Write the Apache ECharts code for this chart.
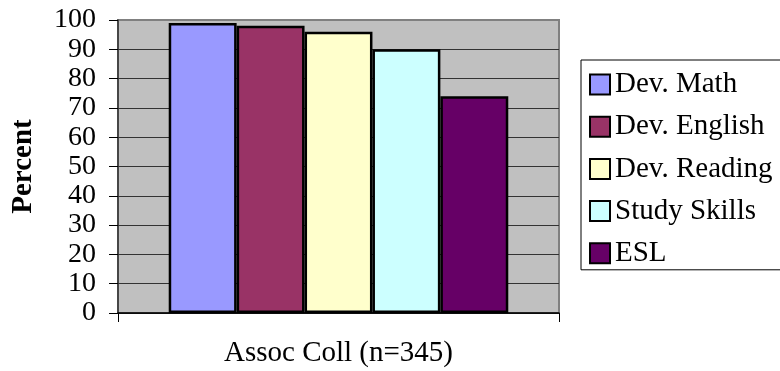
<!DOCTYPE html>
<html>

<head>
  <meta charset="utf-8" />
  <title></title>
  <script src="https://cdn.jsdelivr.net/npm/echarts@6/dist/echarts.min.js"></script>
  <style>
    html, body { margin: 0; padding: 0; background: #fff; }
  </style>
</head>

<body>
  <div id="main" style="width: 780px;height:371px;"></div>
  <script type="text/javascript">
    var categories = ['Assoc Coll (n=345)'];
    var seriesNames = ['Dev. Math', 'Dev. English', 'Dev. Reading', 'Study Skills', 'ESL'];
    var seriesValues = [99, 98, 96, 90, 74];
    var seriesColors = ['#9999FF', '#993366', '#FFFFCC', '#CCFFFF', '#660066'];
    var yTicks = [0, 10, 20, 30, 40, 50, 60, 70, 80, 90, 100];

    var font = "'Liberation Serif', 'Times New Roman', serif";

    var gridColors = yTicks.map(function (v) {
      return v === 100 ? '#808080' : '#333333';
    });

    var series = seriesNames.map(function (name, i) {
      return {
        name: name,
        type: 'bar',
        barGap: 0,
        barCategoryGap: '23%',
        data: [seriesValues[i]],
        itemStyle: { color: seriesColors[i], borderColor: '#000', borderWidth: 2.5 }
      };
    });

    var chart = echarts.init(document.getElementById('main'));
    var option = {
      animation: false,
      grid: {
        left: 118, right: 221, top: 20, bottom: 58,
        outerBoundsMode: 'none',
        containLabel: false,
        show: true,
        backgroundColor: '#C0C0C0',
        borderColor: '#808080',
        borderWidth: 2
      },
      legend: {
        data: seriesNames,
        icon: 'rect',
        orient: 'vertical',
        left: 581,
        top: 60,
        padding: [10, 30, 2, 8],
        itemWidth: 20,
        itemHeight: 20,
        itemGap: 13.2,
        borderColor: '#000',
        borderWidth: 1,
        textStyle: { fontFamily: font, fontSize: 29, color: '#000', lineHeight: 28 }
      },
      xAxis: {
        type: 'category',
        data: categories,
        axisLine: { lineStyle: { color: '#000', width: 1.5 } },
        axisTick: { show: true, length: 9, lineStyle: { color: '#000' } },
        axisLabel: { fontFamily: font, fontSize: 29, color: '#000', margin: 26 }
      },
      yAxis: {
        type: 'value',
        min: 0,
        max: 100,
        interval: 10,
        name: 'Percent',
        nameLocation: 'middle',
        nameGap: 80,
        nameTextStyle: { fontFamily: font, fontSize: 29, fontWeight: 'bold', color: '#000' },
        axisLine: { show: true, lineStyle: { color: '#333', width: 1.5 } },
        axisTick: { show: true, length: 9, lineStyle: { color: '#000' } },
        axisLabel: { fontFamily: font, fontSize: 28, color: '#000', margin: 22 },
        splitLine: { show: true, lineStyle: { color: gridColors, width: 1.2 } }
      },
      series: series
    };
    chart.setOption(option);
  </script>
</body>

</html>
